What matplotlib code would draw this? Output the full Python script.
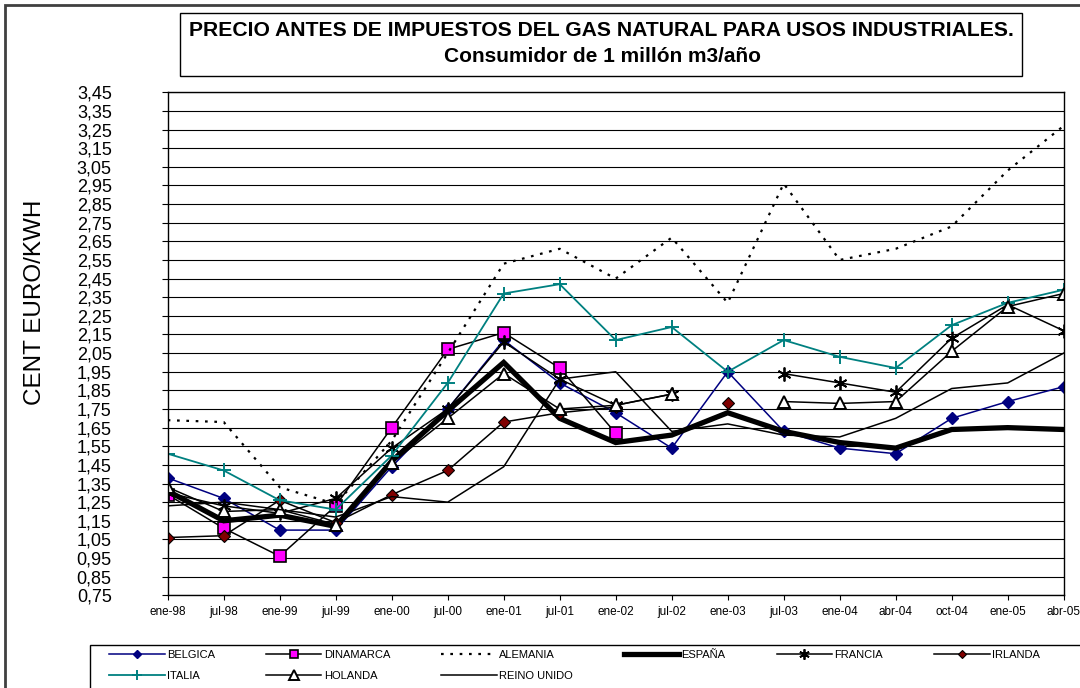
import numpy as np
import matplotlib
matplotlib.use('Agg')
import matplotlib.pyplot as plt
from matplotlib.patches import Rectangle

plt.rcParams['font.family'] = ['Liberation Sans', 'DejaVu Sans']

nan = np.nan
fechas = ['ene-98', 'jul-98', 'ene-99', 'jul-99', 'ene-00', 'jul-00', 'ene-01', 'jul-01',
          'ene-02', 'jul-02', 'ene-03', 'jul-03', 'ene-04', 'abr-04', 'oct-04', 'ene-05', 'abr-05']

belgica = [1.38, 1.27, 1.10, 1.10, 1.44, 1.75, 2.12, 1.89, 1.73, 1.54, 1.95, 1.63, 1.54, 1.51, 1.70, 1.79, 1.87]
dinamarca = [1.29, 1.11, 0.96, 1.23, 1.65, 2.07, 2.16, 1.97, 1.62, nan, nan, nan, nan, nan, nan, nan, nan]
alemania = [1.69, 1.68, 1.33, 1.24, 1.58, 2.05, 2.53, 2.61, 2.45, 2.67, 2.32, 2.96, 2.55, 2.61, 2.73, 3.03, 3.27]
espana = [1.31, 1.15, 1.18, 1.12, 1.47, 1.74, 2.00, 1.70, 1.57, 1.61, 1.73, 1.63, 1.57, 1.54, 1.64, 1.65, 1.64]
francia = [1.30, 1.23, 1.19, 1.27, 1.54, 1.75, 2.11, 1.91, 1.77, 1.83, nan, 1.94, 1.89, 1.84, 2.13, 2.31, 2.17]
irlanda = [1.06, 1.07, 1.26, 1.14, 1.29, 1.42, 1.68, 1.73, 1.76, nan, 1.78, nan, nan, nan, nan, nan, nan]
italia = [1.51, 1.42, 1.26, 1.21, 1.50, 1.89, 2.37, 2.42, 2.12, 2.19, 1.95, 2.12, 2.03, 1.97, 2.20, 2.32, 2.39]
holanda = [1.33, 1.20, 1.21, 1.13, 1.46, 1.70, 1.94, 1.75, 1.77, 1.83, nan, 1.79, 1.78, 1.79, 2.06, 2.30, 2.37]
reino_unido = [1.23, 1.25, 1.21, 1.17, 1.28, 1.25, 1.44, 1.91, 1.95, 1.63, 1.67, 1.61, 1.60, 1.70, 1.86, 1.89, 2.05]

x = np.arange(len(fechas))

fig = plt.figure(figsize=(10.8, 6.88), dpi=100)
ax = fig.add_axes([167.7 / 1080, 1 - 595.3 / 688, 896 / 1080, 503 / 688])

lw = 1.1
l_bel, = ax.plot(x, belgica, color='#000080', lw=lw, marker='D', ms=6, mfc='#000080', mec='#000080', label='BELGICA')
l_din, = ax.plot(x, dinamarca, color='black', lw=lw, marker='s', ms=8.5, mfc='#FF00FF', mec='black', mew=1.2, label='DINAMARCA')
l_ale, = ax.plot(x, alemania, color='black', lw=1.6, ls=(0, (1.2, 3.0)), label='ALEMANIA')
l_esp, = ax.plot(x, espana, color='black', lw=3.8, solid_joinstyle='miter', label='ESPAÑA')
l_fra, = ax.plot(x, francia, color='black', lw=lw, marker=(6, 2, 0), ms=10, mew=1.3, mec='black', label='FRANCIA')
l_irl, = ax.plot(x, irlanda, color='black', lw=lw, marker='D', ms=6, mfc='#800000', mec='black', mew=0.8, label='IRLANDA')
l_ita, = ax.plot(x, italia, color='#008080', lw=1.3, marker='+', ms=10, mew=1.4, mec='#008080', label='ITALIA')
l_hol, = ax.plot(x, holanda, color='black', lw=lw, marker='^', ms=9, mfc='white', mec='black', mew=1.4, label='HOLANDA')
l_rei, = ax.plot(x, reino_unido, color='black', lw=lw, label='REINO UNIDO')

ax.set_xlim(0, len(fechas) - 1)
ax.set_ylim(0.75, 3.45)
yt = np.round(np.arange(0.75, 3.46, 0.1), 2)
ax.set_yticks(yt)
ax.set_yticklabels([f'{v:.2f}'.replace('.', ',') for v in yt])
ax.set_xticks(x)
ax.set_xticklabels(fechas)
ax.yaxis.grid(True, color='black', lw=0.8)
ax.set_axisbelow(True)
ax.tick_params(axis='y', direction='out', length=4.3, pad=36, labelsize=13, width=0.8)
ax.tick_params(axis='x', direction='out', length=3.5, pad=4, labelsize=8.5, width=0.8)
for s in ax.spines.values():
    s.set_linewidth(1.0)

fig.text(35 / 1080, 1 - 302 / 688, 'CENT EURO/KWH', rotation=90, fontsize=17.5, ha='center', va='center')

# marco general y caja del titulo
fig.patches.append(Rectangle((5 / 1080, -0.1), 1.2, 1.1 - 5 / 688, transform=fig.transFigure,
                             fill=False, lw=2, ec='#404040'))
fig.patches.append(Rectangle((180 / 1080, 1 - 76 / 688), 842 / 1080, 63 / 688, transform=fig.transFigure,
                             fill=False, lw=1, ec='black'))
fig.text(601 / 1080, 1 - 30 / 688, 'PRECIO ANTES DE IMPUESTOS DEL GAS NATURAL PARA USOS INDUSTRIALES.',
         fontsize=15.2, fontweight='bold', ha='center', va='center')
fig.text(603 / 1080, 1 - 56 / 688, 'Consumidor de 1 millón m3/año',
         fontsize=15, fontweight='bold', ha='center', va='center')

# leyenda
fig.patches.append(Rectangle((90 / 1080, -0.1), 1.2, 0.1 + 1 - 645 / 688, transform=fig.transFigure,
                             fill=False, lw=1, ec='black'))
handles = [l_bel, l_ita, l_din, l_hol, l_ale, l_rei, l_esp, l_fra, l_irl]
fig.legend(handles, [h.get_label() for h in handles], ncol=6, loc='upper left',
           bbox_to_anchor=(109 / 1080, 1 - 650 / 688), frameon=False, fontsize=8,
           handlelength=5, handletextpad=0.2, columnspacing=4.6, borderaxespad=0,
           borderpad=0, labelspacing=0.95, markerscale=0.75)

fig.savefig('out.png', dpi=100)
